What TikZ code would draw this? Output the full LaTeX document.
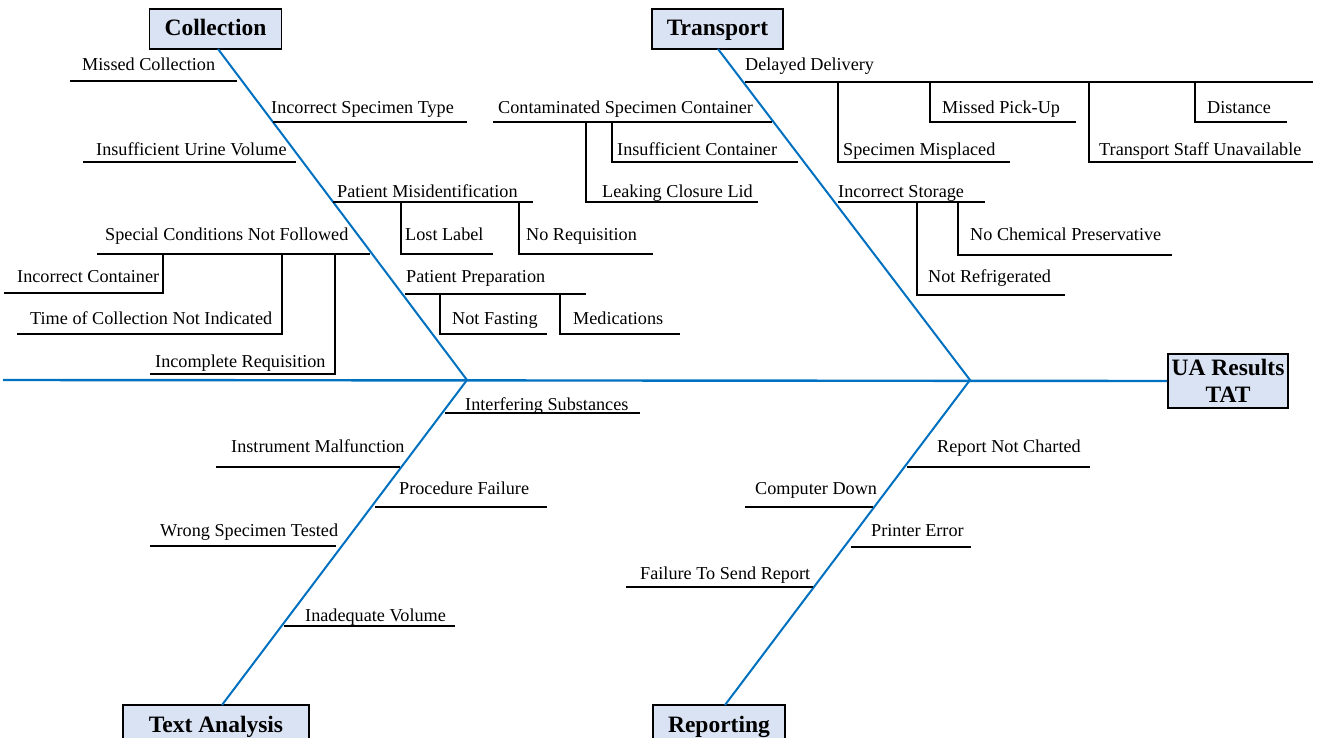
\documentclass[tikz,border=0pt]{standalone}
\usepackage{fontspec}
\setmainfont{Liberation Serif}
\definecolor{bone}{RGB}{0,112,192}
\definecolor{boxfill}{RGB}{218,227,243}
\tikzset{
  lab/.style={anchor=base west,inner sep=0pt,font=\fontsize{18.2}{20}\selectfont},
  br/.style={line width=1.4pt,black},
  bonel/.style={line width=2pt,bone},
  cat/.style={draw=black,line width=1.6pt,fill=boxfill,inner sep=0pt,align=center,
    font=\fontsize{23.5}{27}\selectfont\bfseries},
  cat1/.style={cat,text height=17pt,text depth=3pt,minimum height=40pt},
}
% name, line y, x1, x2, text x, text centre y, text
\newcommand\branch[7]{%
  \draw[br] (#3,#2) coordinate (#1a) -- (#4,#2) coordinate (#1b);
  \node[lab] (#1) at (#5,#6+6.5) {#7};}
% name, top y, vertical x, bottom y, end x, text x, text centre y, text
\newcommand\subbr[8]{%
  \draw[br] (#3,#2) coordinate (#1a) -- (#3,#4) coordinate (#1c) -- (#5,#4) coordinate (#1b);
  \node[lab] (#1) at (#6,#7+6.5) {#8};}
\begin{document}
\begin{tikzpicture}[x=1pt,y=-1pt]
\useasboundingbox (0,0) rectangle (1318,738);
\clip (0,0) rectangle (1318,738);
% category boxes
\node[cat1,minimum width=132pt] (coll) at (215.5,29) {Collection};
\node[cat1,minimum width=131pt] (trans) at (717.5,29) {Transport};
\node[cat1,minimum width=186pt] (text) at (216,725) {Text Analysis};
\node[cat1,minimum width=132pt] (rep) at (719,725) {Reporting};
\node[cat,minimum width=120pt,minimum height=54pt] (head) at (1228,381) {UA Results\\TAT};
% spine and bones
\coordinate (tail) at (3,380);
\coordinate (j1) at (467,380);
\coordinate (j2) at (970,380);
\coordinate (cb) at (218,49);
\coordinate (tb) at (718,49);
\coordinate (ab) at (222,705);
\coordinate (rb) at (725,705);
\draw[bone,line width=2.4pt] (tail) -- (head.west);
\draw[bonel] (cb) -- (j1) -- (ab);
\draw[bonel] (tb) -- (j2) -- (rb);
% Collection
\branch{mc}{81}{70}{237}{82}{64}{Missed Collection}
\branch{ist}{122}{273}{467}{271}{107}{Incorrect Specimen Type}
\branch{iuv}{162}{83}{296}{96}{149}{Insufficient Urine Volume}
\branch{pm}{202}{333}{533}{337}{191}{Patient Misidentification}
\subbr{ll}{202}{401}{254}{493}{405}{234}{Lost Label}
\subbr{nr}{202}{519}{254}{653}{526}{234}{No Requisition}
\branch{sc}{254}{97}{370}{105}{234}{Special Conditions Not Followed}
\subbr{ic}{254}{163}{293}{4}{17}{276}{Incorrect Container}
\subbr{tc}{254}{282}{334}{17}{30}{318}{Time of Collection Not Indicated}
\subbr{ir}{254}{335}{374}{150}{155}{361}{Incomplete Requisition}
\branch{pp}{294}{405}{586}{406}{276}{Patient Preparation}
\subbr{nf}{294}{440}{334}{547}{452}{318}{Not Fasting}
\subbr{md}{294}{560}{334}{680}{573}{318}{Medications}
\branch{csc}{122}{493}{772}{498}{107}{Contaminated Specimen Container}
\subbr{inc}{122}{612}{162}{798}{617}{149}{Insufficient Container}
\subbr{lcl}{122}{586}{202}{758}{602}{191}{Leaking Closure Lid}
% Transport
\branch{dd}{82}{745}{1313}{745}{64}{Delayed Delivery}
\subbr{sm}{82}{838}{162}{1010}{843}{149}{Specimen Misplaced}
\subbr{mp}{82}{930}{122}{1076}{942}{107}{Missed Pick-Up}
\subbr{tsu}{82}{1089}{162}{1313}{1099}{149}{Transport Staff Unavailable}
\subbr{di}{82}{1195}{122}{1287}{1207}{107}{Distance}
\branch{is}{202}{838}{985}{838}{191}{Incorrect Storage}
\subbr{ncp}{202}{958}{255}{1172}{970}{234}{No Chemical Preservative}
\subbr{nrf}{202}{917}{295}{1065}{928}{276}{Not Refrigerated}
% Text Analysis
\branch{isb}{413}{445}{640}{465}{404}{Interfering Substances}
\branch{im}{467}{216}{400}{231}{446}{Instrument Malfunction}
\branch{pf}{507}{375}{547}{399}{488}{Procedure Failure}
\branch{wst}{546}{150}{336}{160}{530}{Wrong Specimen Tested}
\branch{iv}{626}{284}{455}{305}{615}{Inadequate Volume}
% Reporting
\branch{rnc}{467}{907}{1090}{937}{446}{Report Not Charted}
\branch{cd}{507}{745}{873}{755}{488}{Computer Down}
\branch{pe}{547}{851}{971}{871}{530}{Printer Error}
\branch{fts}{587}{626}{813}{640}{573}{Failure To Send Report}
\end{tikzpicture}
\end{document}
